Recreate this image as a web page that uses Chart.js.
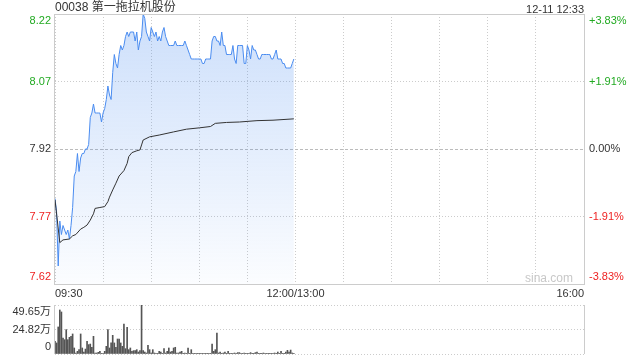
<!DOCTYPE html>
<html>
<head>
<meta charset="utf-8">
<script src="https://cdn.jsdelivr.net/npm/chart.js@4.4.1/dist/chart.umd.min.js"></script>
<style>
  html, body { margin: 0; padding: 0; background: #fff; }
  #wrap { position: relative; width: 640px; height: 360px; color: #333;
          font-family: "Liberation Sans", Arial, "Noto Sans CJK SC", sans-serif; }
  #title { position: absolute; left: 55px; top: 0; font-size: 12px; line-height: 14px; }
  #stamp { position: absolute; right: 56px; top: 2px; font-size: 11px; line-height: 14px; }
  canvas { position: absolute; left: 0; }
</style>
</head>
<body>
<div id="wrap">
  <canvas id="priceChart" width="640" height="300" style="top:0"></canvas>
  <canvas id="volumeChart" width="640" height="62" style="top:298px"></canvas>
  <div id="title">00038 第一拖拉机股份</div>
  <div id="stamp">12-11 12:33</div>
</div>
<script>
// minutes since 09:30 (lunch break removed), one value per minute
const prices = [
  7.81, 7.78, 7.66, 7.76, 7.73, 7.75, 7.74, 7.73, 7.74, 7.72,
  7.75, 7.79, 7.86, 7.87, 7.91, 7.87, 7.90, 7.91, 7.91, 7.92,
  7.92, 7.93, 7.99, 8.00, 8.02, 8.00, 8.00, 8.00, 8.00, 7.98,
  8.00, 8.01, 8.03, 8.06, 8.04, 8.03, 8.09, 8.13, 8.11, 8.10,
  8.13, 8.15, 8.14, 8.15, 8.17, 8.18, 8.17, 8.18, 8.18, 8.18,
  8.16, 8.18, 8.14, 8.16, 8.17, 8.22, 8.21, 8.18, 8.17, 8.16,
  8.19, 8.18, 8.17, 8.18, 8.16, 8.17, 8.16, 8.18, 8.19, 8.17,
  8.16, 8.15, 8.15, 8.15, 8.15, 8.16, 8.15, 8.15, 8.15, 8.15,
  8.15, 8.16, 8.15, 8.14, 8.13, 8.12, 8.12, 8.12, 8.12, 8.12,
  8.12, 8.12, 8.11, 8.11, 8.12, 8.12, 8.12, 8.12, 8.16, 8.17,
  8.17, 8.16, 8.16, 8.15, 8.18, 8.15, 8.15, 8.13, 8.13, 8.13,
  8.13, 8.15, 8.12, 8.11, 8.15, 8.15, 8.15, 8.15, 8.11, 8.11,
  8.15, 8.14, 8.12, 8.15, 8.14, 8.14, 8.13, 8.12, 8.12, 8.13,
  8.13, 8.13, 8.13, 8.13, 8.13, 8.12, 8.12, 8.13, 8.14, 8.12,
  8.12, 8.12, 8.11, 8.11, 8.10, 8.10, 8.10, 8.10, 8.11, 8.12
];

// average price line, read at these minutes
const avgTimes = [0, 3, 5, 9, 11, 13, 16, 18, 20, 22, 24, 25, 28, 31, 33, 34, 36, 38, 40, 43,
  45, 46, 48, 51, 53, 54, 55, 59, 65, 74, 82, 90, 97, 100, 107, 115, 126, 136, 149];
const avgPrices = [7.807, 7.712, 7.718, 7.72, 7.727, 7.73, 7.742, 7.746, 7.751, 7.762,
  7.776, 7.788, 7.79, 7.792, 7.803, 7.813, 7.829, 7.844, 7.86, 7.872,
  7.888, 7.903, 7.912, 7.916, 7.918, 7.929, 7.94, 7.947, 7.951, 7.958,
  7.964, 7.967, 7.97, 7.977, 7.979, 7.98, 7.983, 7.984, 7.987];

// volume per minute, in 万 shares
const volumes = [
  12.8, 11.2, 27.4, 44.6, 42.6, 16.2, 14.5, 24.7, 14.5, 16.9,
  17.9, 20.3, 6.1, 1.0, 2.7, 4.4, 20.3, 6.1, 2.0, 5.0,
  12.8, 9.5, 10.1, 6.8, 17.9, 1.0, 1.0, 1.7, 2.7, 0.3,
  0.7, 2.7, 7.8, 24.7, 6.1, 11.2, 18.9, 11.2, 6.8, 15.2,
  15.2, 11.2, 7.8, 30.4, 5.4, 27.0, 4.4, 6.1, 2.7, 3.4,
  3.4, 4.4, 2.0, 3.4, 49.6, 3.4, 2.0, 1.0, 8.8, 4.4,
  1.0, 4.4, 1.0, 0.3, 0.3, 2.7, 2.0, 0.3, 5.4, 1.0,
  2.7, 6.1, 2.0, 2.7, 6.1, 6.8, 1.0, 1.0, 2.0, 2.7,
  0.3, 1.0, 0.7, 6.1, 0.7, 4.4, 0.3, 0.3, 0.7, 0.3,
  0.7, 0.3, 0.3, 0.3, 0.7, 0.3, 0.3, 0.7, 10.1, 2.7,
  4.4, 21.3, 1.0, 2.0, 0.3, 1.0, 2.0, 0.7, 2.7, 0.3,
  0.7, 0.7, 1.0, 0.7, 1.4, 1.4, 0.7, 0.3, 1.0, 0.7,
  0.3, 0.7, 1.4, 0.7, 0.3, 1.4, 2.0, 0.3, 0.7, 0.3,
  1.0, 0.7, 0.7, 0.7, 0.7, 0.7, 0.7, 1.0, 0.7, 2.0,
  0.3, 2.7, 0.3, 0.7, 2.0, 3.7, 2.0, 4.0, 1.0, 0.3
];

const prevClose = 7.92;
const priceTicks = [7.62, 7.77, 7.92, 8.07, 8.22];
const priceLabels = ['7.62', '7.77', '7.92', '8.07', '8.22'];
const pctLabels = ['-3.83%', '-1.91%', '0.00%', '+1.91%', '+3.83%'];
const tickColors = ['#ee2222', '#ee2222', '#333333', '#22aa22', '#22aa22'];

const gridMinutes = [0, 30, 60, 90, 120, 150, 180, 210, 240, 270, 300, 330];
const timeLabelMinutes = [0, 150, 330];
const timeLabels = ['09:30', '12:00/13:00', '16:00'];

const volTicks = [0, 24.825, 49.65];
const volLabels = ['0', '24.82万', '49.65万'];

Chart.defaults.font.family = '"Liberation Sans", Arial, "Noto Sans CJK SC", sans-serif';
Chart.defaults.font.size = 11;
Chart.defaults.color = '#333';

// first / last labels sit inside the plot, like the original
function edgeLabel(text, i, n) {
  if (i === 0) return [text, ''];
  if (i === n - 1) return ['', text];
  return text;
}

// keep the plot box where it is, labels may overflow
function noPad(s) {
  s.paddingTop = 0;
  s.paddingBottom = 0;
  s.paddingLeft = 0;
  s.paddingRight = 0;
}

const priceDecor = {
  id: 'priceDecor',
  beforeDatasetsDraw(chart) {
    const { ctx, chartArea: a, scales } = chart;
    const yz = Math.round(scales.y.getPixelForValue(prevClose)) + 0.5;
    ctx.save();
    ctx.strokeStyle = '#bbb';
    ctx.lineWidth = 1;
    ctx.setLineDash([3, 2]);
    ctx.beginPath();
    ctx.moveTo(a.left, yz);
    ctx.lineTo(a.right, yz);
    ctx.stroke();
    ctx.restore();
  },
  afterDraw(chart) {
    const { ctx, chartArea: a } = chart;
    ctx.save();
    ctx.strokeStyle = '#ccc';
    ctx.lineWidth = 1;
    ctx.strokeRect(Math.round(a.left) - 0.5, Math.round(a.top) + 0.5,
      Math.round(a.right - a.left) + 1, Math.round(a.bottom - a.top));
    ctx.fillStyle = '#c8c8c8';
    ctx.font = '12px "Liberation Sans", Arial, sans-serif';
    ctx.textAlign = 'right';
    ctx.textBaseline = 'middle';
    ctx.fillText('sina.com', a.right - 11, a.bottom - 5);
    ctx.restore();
  }
};

const volumeDecor = {
  id: 'volumeDecor',
  afterDraw(chart) {
    const { ctx, chartArea: a } = chart;
    ctx.save();
    ctx.strokeStyle = '#ccc';
    ctx.lineWidth = 1;
    ctx.beginPath();
    ctx.moveTo(Math.round(a.left) - 0.5, a.top);
    ctx.lineTo(Math.round(a.left) - 0.5, a.bottom);
    ctx.moveTo(Math.round(a.right) + 0.5, a.top);
    ctx.lineTo(Math.round(a.right) + 0.5, a.bottom);
    ctx.stroke();
    ctx.restore();
  }
};

new Chart(document.getElementById('priceChart'), {
  type: 'line',
  data: {
    datasets: [{
      data: avgTimes.map((t, i) => ({ x: t, y: avgPrices[i] })),
      borderColor: '#333',
      borderWidth: 1,
      pointRadius: 0,
      fill: false
    }, {
      data: prices.map((p, i) => ({ x: i, y: p })),
      borderColor: '#4a8cf0',
      borderWidth: 1,
      pointRadius: 0,
      fill: 'start',
      backgroundColor: c => {
        const a = c.chart.chartArea;
        if (!a) return 'rgba(74,140,240,0.15)';
        const g = c.chart.ctx.createLinearGradient(0, a.top, 0, a.bottom);
        g.addColorStop(0, 'rgba(74,140,240,0.28)');
        g.addColorStop(1, 'rgba(74,140,240,0.02)');
        return g;
      }
    }]
  },
  options: {
    responsive: false,
    animation: false,
    layout: { padding: { top: 14, left: 0, right: 0, bottom: 0 } },
    plugins: { legend: { display: false }, tooltip: { enabled: false } },
    scales: {
      x: {
        type: 'linear', min: 0, max: 330,
        afterBuildTicks: s => { s.ticks = gridMinutes.map(v => ({ value: v })); },
        afterFit: s => { s.height = 16; noPad(s); },
        border: { display: false, dash: [1, 2] },
        grid: { color: '#ccc', drawTicks: false },
        ticks: {
          align: 'inner', autoSkip: false, maxRotation: 0, padding: 3,
          callback: v => {
            const k = timeLabelMinutes.indexOf(v);
            return k >= 0 ? timeLabels[k] : '';
          }
        }
      },
      y: {
        position: 'left', min: 7.62, max: 8.22,
        afterBuildTicks: s => { s.ticks = priceTicks.map(v => ({ value: v })); },
        afterFit: s => { s.width = 55; noPad(s); },
        border: { display: false, dash: [1, 2] },
        grid: {
          drawTicks: false,
          color: c => (c.tick && c.tick.value === prevClose) ? 'rgba(0,0,0,0)' : '#ccc'
        },
        ticks: {
          padding: 4,
          autoSkip: false,
          color: c => tickColors[c.index],
          callback: (v, i) => edgeLabel(priceLabels[i], i, priceTicks.length)
        }
      },
      y2: {
        position: 'right', min: 7.62, max: 8.22,
        afterBuildTicks: s => { s.ticks = priceTicks.map(v => ({ value: v })); },
        afterFit: s => { s.width = 56; noPad(s); },
        border: { display: false },
        grid: { drawOnChartArea: false, drawTicks: false },
        ticks: {
          padding: 5,
          autoSkip: false,
          color: c => tickColors[c.index],
          callback: (v, i) => edgeLabel(pctLabels[i], i, priceTicks.length)
        }
      }
    }
  },
  plugins: [priceDecor]
});

new Chart(document.getElementById('volumeChart'), {
  type: 'bar',
  data: {
    datasets: [{
      data: volumes.map((v, i) => ({ x: i, y: v })),
      backgroundColor: '#555',
      barThickness: 1
    }]
  },
  options: {
    responsive: false,
    animation: false,
    layout: { padding: { top: 7, left: 0, right: 56, bottom: 6 } },
    plugins: { legend: { display: false }, tooltip: { enabled: false } },
    scales: {
      x: { type: 'linear', min: 0, max: 330, offset: false, display: false },
      y: {
        min: 0, max: 49.65,
        afterBuildTicks: s => { s.ticks = volTicks.map(v => ({ value: v })); },
        afterFit: s => { s.width = 55; noPad(s); },
        border: { display: false, dash: [1, 2] },
        grid: { color: '#ccc', drawTicks: false },
        ticks: {
          padding: 4,
          autoSkip: false,
          callback: (v, i) => edgeLabel(volLabels[i], i, volTicks.length)
        }
      }
    }
  },
  plugins: [volumeDecor]
});
</script>
</body>
</html>
